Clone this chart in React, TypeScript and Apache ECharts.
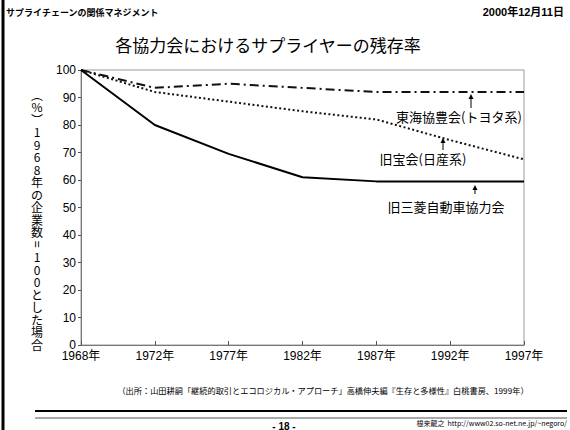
import React, { useEffect, useRef } from "react";
import * as echarts from "echarts";

const years = ["1968年", "1972年", "1977年", "1982年", "1987年", "1992年", "1997年"];
const toyota = [100, 93.5, 95, 93.5, 92, 92, 92];
const nissan = [100, 92, 88.5, 85, 82, 74.5, 67.5];
const mitsubishi = [100, 80, 69.5, 61, 59.5, 59.5, 59.5];
const seriesNames = ["東海協豊会(トヨタ系)", "旧宝会(日産系)", "旧三菱自動車協力会"];
const yNameTop = ["︵", "%", "︶", "1", "9", "6", "8", "年", "の", "企", "業", "数"];
const yNameEq = "=";
const yNameBottom = ["1", "0", "0", "と", "し", "た", "場", "合"];

const FONT = "'Liberation Sans', 'Noto Sans CJK JP', sans-serif";
const JFONT = "'Noto Sans CJK JP', sans-serif";

function arrow(x: number, yTop: number, yBottom: number) {
  return [
    { type: "line", shape: { x1: x, y1: yTop + 3, x2: x, y2: yBottom }, style: { stroke: "#000", lineWidth: 1 } },
    { type: "polygon", shape: { points: [[x, yTop], [x - 2.5, yTop + 5], [x + 2.5, yTop + 5]] }, style: { fill: "#000" } },
  ];
}

export default function App() {
  const ref = useRef<HTMLDivElement>(null);
  useEffect(() => {
    const chart = echarts.init(ref.current!, null, { renderer: "svg" });
    const lineCommon = { type: "line", symbol: "none", smooth: false };
    const LH = 12.5;
    const yTop0 = 88;
    const eqY = yTop0 + yNameTop.length * LH + LH / 2;
    const bottomY = yTop0 + (yNameTop.length + 1) * LH;
    chart.setOption({
      animation: false,
      backgroundColor: "#fff",
      grid: { left: 81, top: 70, right: 46, bottom: 85, show: true, borderColor: "#999", borderWidth: 1, containLabel: false },
      xAxis: {
        type: "category",
        boundaryGap: false,
        data: years,
        axisLine: { show: true, lineStyle: { color: "#777", width: 1 } },
        axisTick: { show: true, inside: true, length: 4, lineStyle: { color: "#555" } },
        axisLabel: { color: "#000", fontSize: 12, fontFamily: FONT, margin: 5 },
        splitLine: { show: false },
      },
      yAxis: {
        type: "value",
        min: 0,
        max: 100,
        interval: 10,
        axisLine: { show: true, lineStyle: { color: "#777", width: 1 } },
        axisTick: { show: true, inside: false, length: 3, lineStyle: { color: "#555" } },
        axisLabel: { color: "#000", fontSize: 12, fontFamily: FONT, margin: 5 },
        splitLine: { show: false },
      },
      series: [
        { ...lineCommon, name: seriesNames[0], data: toyota, lineStyle: { color: "#111", width: 2, type: [9, 4, 2, 4] } },
        { ...lineCommon, name: seriesNames[1], data: nissan, lineStyle: { color: "#111", width: 2, type: [2, 2.5] } },
        { ...lineCommon, name: seriesNames[2], data: mitsubishi, lineStyle: { color: "#000", width: 2, type: "solid" } },
      ],
      graphic: [
        { type: "line", shape: { x1: 3, y1: 0, x2: 3, y2: 430 }, style: { stroke: "#000", lineWidth: 3 } },
        { type: "text", x: 6, y: 12, style: { text: "サプライチェーンの関係マネジメント", fontSize: 9, fontWeight: "bold", fontFamily: JFONT, fill: "#000", align: "left", verticalAlign: "middle" } },
        { type: "text", x: 564, y: 12, style: { text: "2000年12月11日", fontSize: 11, fontWeight: "bold", fontFamily: FONT, fill: "#000", align: "right", verticalAlign: "middle" } },
        { type: "text", x: 268, y: 44, style: { text: "各協力会におけるサプライヤーの残存率", fontSize: 17, fontFamily: JFONT, fill: "#000", align: "center", verticalAlign: "middle" } },
        { type: "text", x: 37, y: yTop0, style: { text: yNameTop.join("\n"), fontSize: 12, lineHeight: LH, fontFamily: JFONT, fill: "#000", align: "center", verticalAlign: "top" } },
        { type: "text", x: 37, y: eqY, rotation: -Math.PI / 2, style: { text: yNameEq, fontSize: 12, fontFamily: FONT, fill: "#000", align: "center", verticalAlign: "middle" } },
        { type: "text", x: 37, y: bottomY, style: { text: yNameBottom.join("\n"), fontSize: 12, lineHeight: LH, fontFamily: JFONT, fill: "#000", align: "center", verticalAlign: "top" } },
        { type: "text", x: 459, y: 116, style: { text: seriesNames[0], fontSize: 13, fontFamily: JFONT, fill: "#000", align: "center", verticalAlign: "middle" } },
        { type: "text", x: 423, y: 158, style: { text: seriesNames[1], fontSize: 13, fontFamily: JFONT, fill: "#000", align: "center", verticalAlign: "middle" } },
        { type: "text", x: 446, y: 206, style: { text: seriesNames[2], fontSize: 13, fontFamily: JFONT, fill: "#000", align: "center", verticalAlign: "middle" } },
        ...arrow(471, 94, 108),
        ...arrow(443, 138, 150),
        ...arrow(475, 185, 194),
        { type: "text", x: 323, y: 390, style: { text: "（出所：山田耕嗣「継続的取引とエコロジカル・アプローチ」高橋伸夫編『生存と多様性』白桃書房、1999年）", fontSize: 8.2, fontFamily: JFONT, fill: "#000", align: "center", verticalAlign: "middle" } },
        { type: "line", shape: { x1: 35, y1: 411, x2: 567, y2: 411 }, style: { stroke: "#000", lineWidth: 2 } },
        { type: "line", shape: { x1: 35, y1: 418, x2: 567, y2: 418 }, style: { stroke: "#555", lineWidth: 1 } },
        { type: "text", x: 284, y: 421, style: { text: "- 18 -", fontSize: 10, fontWeight: "bold", fontFamily: FONT, fill: "#000", align: "center", verticalAlign: "top" } },
        { type: "text", x: 567, y: 423, style: { text: "根来龍之  http://www02.so-net.ne.jp/~negoro/", fontSize: 7, fontFamily: JFONT, fill: "#000", align: "right", verticalAlign: "middle" } },
      ],
    });
    return () => chart.dispose();
  }, []);
  return <div ref={ref} style={{ position: "fixed", left: 0, top: 0, width: 570, height: 430, background: "#fff" }} />;
}
